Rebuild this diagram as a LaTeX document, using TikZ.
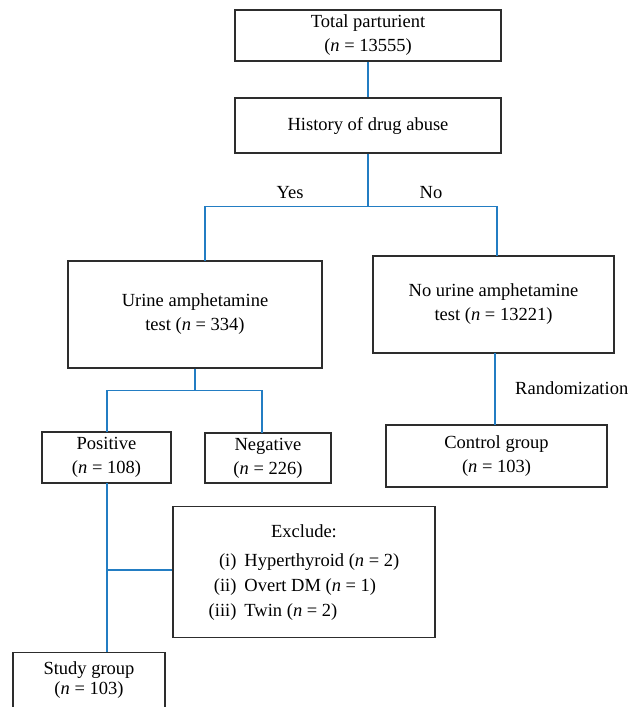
\documentclass[tikz,border=0pt]{standalone}
\usepackage{fontspec}
\setmainfont{Liberation Serif}
\definecolor{linkblue}{RGB}{35,125,195}
\definecolor{boxline}{RGB}{45,45,45}
\begin{document}
\begin{tikzpicture}[x=1pt,y=1pt,
  box/.style={draw=boxline,line width=1.3pt,inner sep=0pt,align=center,
    font=\fontsize{18.5}{24}\selectfont},
  link/.style={draw=linkblue,line width=1.1pt},
  lab/.style={font=\fontsize{18.5}{24}\selectfont,inner sep=0pt,align=center}]
\useasboundingbox (0,0) rectangle (631,-707);
\begin{scope}
\clip (0,0) rectangle (631,-707);
\node[box,minimum width=266,minimum height=51] (total) at (368,-35.5) {Total parturient\\(\textit{n} = 13555)};
\node[box,minimum width=266,minimum height=55] (hist) at (368,-125.5) {History of drug abuse};
\node[box,minimum width=254,minimum height=107] (urine) at (195,-314.5) {Urine amphetamine\\test (\textit{n} = 334)};
\node[box,minimum width=241,minimum height=97] (nourine) at (493.5,-304.5) {No urine amphetamine\\test (\textit{n} = 13221)};
\node[box,minimum width=129,minimum height=51] (pos) at (106.5,-457.5) {Positive\\(\textit{n} = 108)};
\node[box,minimum width=126,minimum height=50] (neg) at (268,-458) {Negative\\(\textit{n} = 226)};
\node[box,minimum width=221,minimum height=62] (ctrl) at (496.5,-456) {Control group\\(\textit{n} = 103)};
\node[box,minimum width=262,minimum height=131] (excl) at (304,-572) {};
\node[lab,anchor=base] (excltxt) at (304,-566) {Exclude:\\[5pt]
  \begin{tabular}[t]{@{}r@{\hspace{8pt}}l@{}}
  (i) & Hyperthyroid (\textit{n} = 2)\\[1pt]
  (ii) & Overt DM (\textit{n} = 1)\\[1pt]
  (iii) & Twin (\textit{n} = 2)
  \end{tabular}};
\node[box,minimum width=152,minimum height=80,anchor=north] (study) at (89,-652) {};
\node[lab,font=\fontsize{18.5}{20}\selectfont] (studytxt) at (89,-680.5) {Study group\\(\textit{n} = 103)};
\node[lab] (yes) at (290,-193) {Yes};
\node[lab] (no) at (431,-193) {No};
\node[lab,anchor=west] (rand) at (515,-388) {Randomization};
\coordinate (yesin) at (205,-261);
\coordinate (noin) at (497,-256);
\coordinate (posin) at (107,-432);
\coordinate (negin) at (262,-433);
\coordinate (posout) at (107,-483);
\coordinate (studyin) at (107,-652);
\coordinate (branch) at (107,-570);
\coordinate (ctrlin) at (495,-425);
\coordinate (nout) at (495,-353);
\end{scope}
\draw[link] (total.south) -- (hist.north);
\draw[link] (hist.south) -- ++(0,-53) -| (yesin);
\draw[link] (hist.south) ++(0,-53) -| (noin);
\draw[link] (urine.south) -- ++(0,-22) -| (posin);
\draw[link] (urine.south) ++(0,-22) -| (negin);
\draw[link] (nout) -- (ctrlin);
\draw[link] (posout) -- (studyin);
\draw[link] (branch) -- (branch -| excl.west);
\end{tikzpicture}
\end{document}
